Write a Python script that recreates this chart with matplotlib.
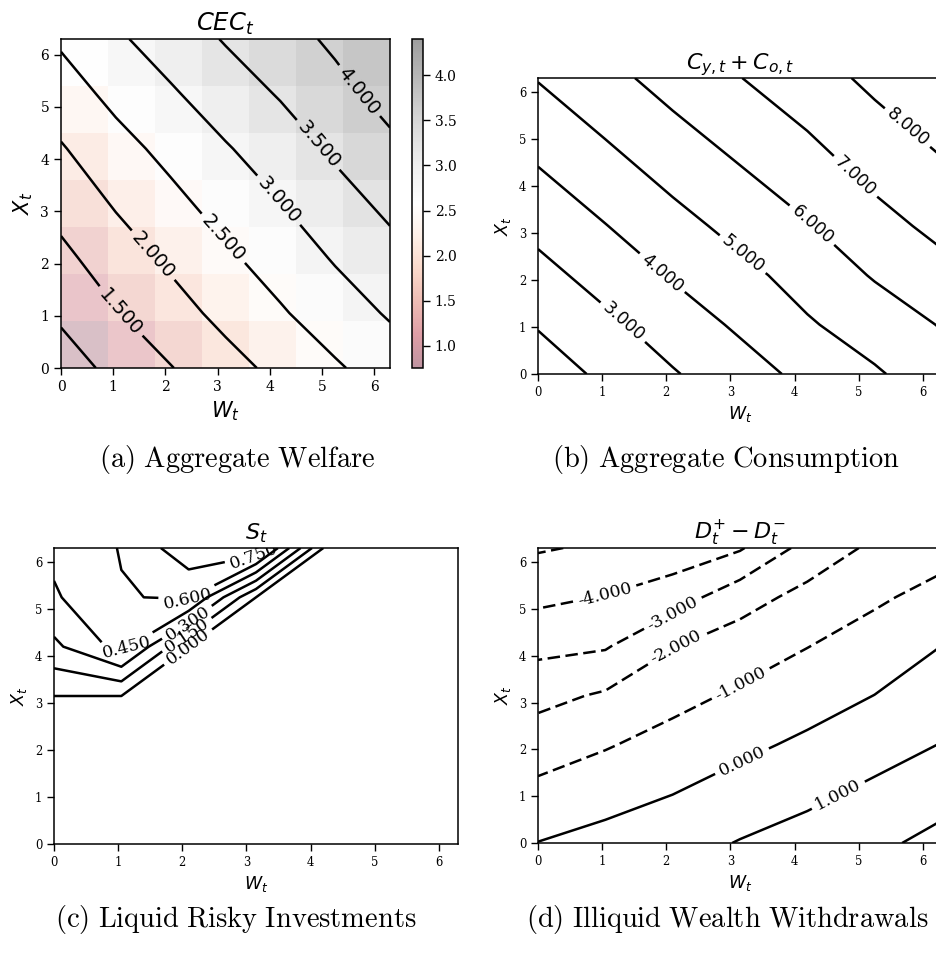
import numpy as np
import matplotlib
matplotlib.use('Agg')
import matplotlib.pyplot as plt

# ---------------- data (rows = X_t grid, columns = W_t grid) ----------------
W = [0.0, 1.05, 2.1, 3.15, 4.2, 5.25, 6.3]
X = [0.0, 1.05, 2.1, 3.15, 4.2, 5.25, 6.3]

CEC = [
    [0.756, 1.14, 1.48, 1.82, 2.135, 2.44, 2.74],
    [1.086, 1.47, 1.804, 2.138, 2.448, 2.76, 3.05],
    [1.38, 1.758, 2.087, 2.415, 2.718, 3.04, 3.34],
    [1.674, 2.046, 2.369, 2.691, 2.989, 3.31, 3.61],
    [1.96, 2.327, 2.643, 2.96, 3.251, 3.58, 3.90],
    [2.27, 2.631, 2.942, 3.252, 3.538, 3.86, 4.16],
    [2.57, 2.925, 3.23, 3.535, 3.815, 4.085, 4.40],
]

CONS = [
    [1.48, 2.20, 2.92, 3.59, 4.25, 4.89, 5.53],
    [2.07, 2.78, 3.49, 4.15, 4.90, 5.45, 6.06],
    [2.68, 3.38, 4.08, 4.73, 5.37, 6.08, 6.68],
    [3.28, 3.97, 4.66, 5.30, 5.93, 6.65, 7.27],
    [3.88, 4.56, 5.24, 5.87, 6.49, 7.20, 7.80],
    [4.47, 5.14, 5.81, 6.43, 7.04, 7.72, 8.30],
    [5.05, 5.71, 6.37, 6.98, 7.58, 8.22, 8.80],
]

S = [
    [0.0, 0.0, 0.0, 0.0, 0.0, 0.0, 0.0],
    [0.0, 0.0, 0.0, 0.0, 0.0, 0.0, 0.0],
    [0.0, 0.0, 0.0, 0.0, 0.0, 0.0, 0.0],
    [0.0, 0.0, 0.0, 0.0, 0.0, 0.0, 0.0],
    [0.267, 0.506, 0.0, 0.0, 0.0, 0.0, 0.0],
    [0.432, 0.59, 0.62, 0.0, 0.0, 0.0, 0.0],
    [0.486, 0.608, 0.85, 0.89, 0.0, 0.0, 0.0],
]

D = [
    [0.02, 0.33, 0.62, 1.05, 1.39, 1.80, 2.29],
    [-0.73, -0.37, -0.01, 0.41, 0.79, 1.21, 1.66],
    [-1.48, -1.08, -0.64, -0.22, 0.18, 0.61, 1.03],
    [-2.29, -1.88, -1.31, -0.85, -0.42, 0.01, 0.51],
    [-3.27, -3.09, -2.04, -1.51, -1.02, -0.56, 0.01],
    [-4.22, -3.96, -3.48, -2.40, -1.70, -1.15, -0.67],
    [-5.09, -4.85, -4.60, -4.10, -2.65, -1.80, -1.35],
]

CEC_LEVELS = [1.5, 2.0, 2.5, 3.0, 3.5, 4.0]
CEC_UNLABELED = [1.0]
CONS_LEVELS = [3.0, 4.0, 5.0, 6.0, 7.0, 8.0]
CONS_UNLABELED = [2.0]
S_LEVELS = [0.0, 0.15, 0.30, 0.45, 0.60, 0.75]
D_LEVELS = [-4.0, -3.0, -2.0, -1.0, 0.0, 1.0]
D_UNLABELED = [-5.0, 2.0]
TICKS = [0, 1, 2, 3, 4, 5, 6]
CB_TICKS = [1.0, 1.5, 2.0, 2.5, 3.0, 3.5, 4.0]

CAPTIONS = [r'$\mathrm{(a)\ Aggregate\ Welfare}$',
            r'$\mathrm{(b)\ Aggregate\ Consumption}$',
            r'$\mathrm{(c)\ Liquid\ Risky\ Investments}$',
            r'$\mathrm{(d)\ Illiquid\ Wealth\ Withdrawals}$']

# ---------------- style ----------------
plt.rcParams['font.family'] = ['DejaVu Serif']
plt.rcParams['mathtext.fontset'] = 'dejavusans'

FW, FH = 936, 956
fig = plt.figure(figsize=(FW / 100, FH / 100), dpi=100)


def box(l, t, r, b):
    return [l / FW, 1 - b / FH, (r - l) / FW, (b - t) / FH]


LW = 1.8
DASH = (0, (5.0, 2.2))


def styles_for(levels):
    return [DASH if lv < 0 else 'solid' for lv in levels]


def style_axes(ax, tick_size, label_size, title, title_size):
    ax.set_xlim(0, 6.3)
    ax.set_ylim(0, 6.3)
    ax.set_xticks(TICKS)
    ax.set_yticks(TICKS)
    ax.tick_params(labelsize=tick_size, length=5, width=1)
    ax.set_xlabel(r'$W_t$', fontsize=label_size)
    ax.set_ylabel(r'$X_t$', fontsize=label_size)
    ax.set_title(title, fontsize=title_size)
    for sp in ax.spines.values():
        sp.set_linewidth(1.1)


# ---- (a) CEC ----
ax_a = fig.add_axes(box(61, 39, 390, 368))
im = ax_a.imshow(np.array(CEC), origin='lower', extent=[0, 6.3, 0, 6.3],
                 cmap='RdGy', alpha=0.25, aspect='auto', interpolation='nearest')
ax_a.contour(W, X, CEC, levels=CEC_UNLABELED, colors='k', linewidths=LW)
cs_a = ax_a.contour(W, X, CEC, levels=CEC_LEVELS, colors='k', linewidths=LW)
with plt.rc_context({'font.family': ['DejaVu Sans']}):
    ax_a.clabel(cs_a, fmt='%.3f', fontsize=14, inline=True,
                manual=[(1.17, 1.11), (1.81, 2.2), (3.15, 2.52), (4.11, 3.16),
                        (4.91, 4.26), (5.77, 5.35)])
style_axes(ax_a, 10, 15, r'$CEC_t$', 17.5)
cax = fig.add_axes(box(412, 39, 423, 368))
cb = fig.colorbar(im, cax=cax)
cb.solids.set_alpha(0.42)
cb.set_ticks(CB_TICKS)
cb.ax.tick_params(labelsize=10, length=5, width=1)
cb.outline.set_linewidth(1.1)

# ---- (b) consumption ----
ax_b = fig.add_axes(box(538, 78, 942, 374))
ax_b.contour(W, X, CONS, levels=CONS_UNLABELED, colors='k', linewidths=LW)
cs_b = ax_b.contour(W, X, CONS, levels=CONS_LEVELS, colors='k', linewidths=LW)
with plt.rc_context({'font.family': ['DejaVu Sans']}):
    ax_b.clabel(cs_b, fmt='%.3f', fontsize=12.5, inline=True,
                manual=[(1.27, 1.02), (1.94, 2.16), (3.15, 2.48), (4.21, 3.08),
                        (4.96, 4.22), (5.79, 5.29)])
style_axes(ax_b, 8.3, 12.5, r'$C_{y,t} + C_{o,t}$', 16)

# ---- (c) liquid risky investments ----
ax_c = fig.add_axes(box(54, 548, 458, 844))
cs_c = ax_c.contour(W, X, S, levels=S_LEVELS, colors='k', linewidths=LW)
ax_c.clabel(cs_c, fmt='%.3f', fontsize=12.5, inline=True,
            manual=[(2.06, 4.25), (2.04, 4.53), (2.06, 4.75), (1.10, 4.25),
                    (2.09, 5.17), (3.13, 6.06)])
style_axes(ax_c, 8.3, 12.5, r'$S_t$', 16)

# ---- (d) illiquid withdrawals ----
ax_d = fig.add_axes(box(538, 548, 942, 843))
ax_d.contour(W, X, D, levels=D_UNLABELED, colors='k', linewidths=LW,
             linestyles=styles_for(D_UNLABELED))
cs_d = ax_d.contour(W, X, D, levels=D_LEVELS, colors='k', linewidths=LW,
                    linestyles=styles_for(D_LEVELS))
ax_d.clabel(cs_d, fmt='%.3f', fontsize=12.5, inline=True,
            manual=[(1.04, 5.33), (2.13, 4.84), (2.13, 4.23), (3.16, 3.41),
                    (3.16, 1.81), (4.68, 1.03)])
style_axes(ax_d, 8.3, 12.5, r'$D_t^{+} - D_t^{-}$', 16)

# ---- captions ----
cap_pos = [(237, 460), (726, 460), (236, 920), (727, 920)]
for (cx, cy), txt in zip(cap_pos, CAPTIONS):
    fig.text(cx / FW, 1 - cy / FH, txt, math_fontfamily='cm', fontsize=20.5,
             ha='center', va='center')

fig.savefig('out.png', dpi=100)
